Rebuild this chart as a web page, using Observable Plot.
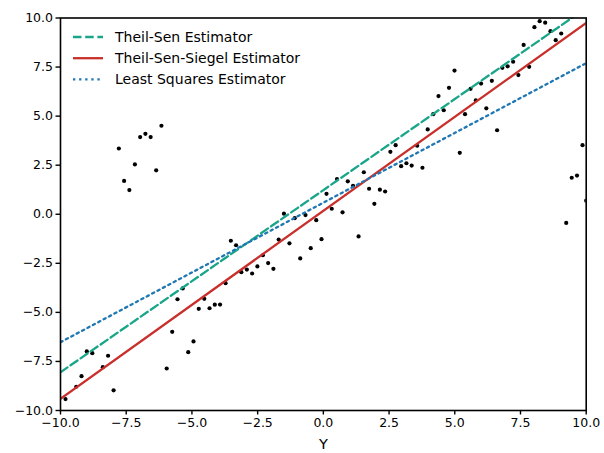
<!DOCTYPE html>
<html><head><meta charset="utf-8">
<script src="https://cdn.jsdelivr.net/npm/d3@7"></script>
<script src="https://cdn.jsdelivr.net/npm/@observablehq/plot@0.6"></script>
<style>body{margin:0;background:#fff;}</style>
</head><body><div id="chart"></div>
<script>
const xs = [-9.81,-9.40,-9.20,-9.00,-8.79,-8.39,-8.19,-7.98,-7.78,-7.58,-7.38,-7.17,-6.97,-6.77,-6.57,-6.36,-6.16,-5.96,-5.75,-5.55,-5.35,-5.14,-4.94,-4.74,-4.53,-4.33,-4.13,-3.93,-3.72,-3.52,-3.32,-3.12,-2.91,-2.71,-2.51,-2.30,-2.10,-1.90,-1.70,-1.50,-1.29,-1.09,-0.88,-0.68,-0.48,-0.27,-0.07,0.12,0.32,0.52,0.73,0.93,1.13,1.34,1.54,1.74,1.94,2.15,2.35,2.55,2.75,2.96,3.16,3.36,3.57,3.77,3.97,4.18,4.38,4.58,4.78,4.99,5.19,5.39,5.60,5.80,6.00,6.20,6.41,6.61,6.81,7.01,7.22,7.42,7.62,7.83,8.03,8.23,8.44,8.64,8.84,9.05,9.24,9.45,9.65,9.86,10.0];
const ys = [-9.42,-8.79,-8.25,-6.99,-7.08,-7.79,-7.21,-8.97,3.35,1.70,1.23,2.54,3.93,4.10,3.93,2.24,4.51,-7.86,-5.99,-4.33,-3.78,-7.03,-6.48,-4.82,-4.31,-4.79,-4.61,-4.60,-3.51,-1.35,-1.58,-2.95,-2.82,-3.02,-2.66,-2.09,-2.49,-2.78,-1.29,0.03,-1.48,-0.20,-2.25,-0.04,-1.73,-0.30,-1.27,1.04,0.28,1.79,0.10,1.68,1.45,-1.13,2.14,1.30,0.53,1.25,1.16,3.18,3.52,2.45,2.60,2.48,3.49,2.37,4.32,5.10,6.02,5.30,6.44,7.32,3.13,5.10,6.39,5.80,6.66,5.40,6.80,4.28,7.46,7.54,7.77,7.09,8.63,7.51,9.53,9.84,9.76,9.33,8.87,9.21,-0.44,1.86,1.97,3.52,0.69];

const fitX = [-10, 10];
const theilSenY = [-8.05, 10.51];
const siegelY = [-9.40, 9.75];
const lsqY = [-6.52, 7.70];

const legendLabels = ["Theil-Sen Estimator", "Theil-Sen-Siegel Estimator", "Least Squares Estimator"];
const xTicks = [-10, -7.5, -5, -2.5, 0, 2.5, 5, 7.5, 10];
const yTicks = [-10, -7.5, -5, -2.5, 0, 2.5, 5, 7.5, 10];
const xLabel = "Y";

const colors = ["#18a589", "#c9302c", "#1f77b4"];
const dashes = ["8.5,3.7", null, "2.3,3.8"];

const points = xs.map((x, i) => ({x, y: ys[i]}));
const fit = (arr) => fitX.map((x, i) => ({x, y: arr[i]}));
const fits = [theilSenY, siegelY, lsqY];

const chart = Plot.plot({
  width: 604, height: 453,
  marginLeft: 60, marginRight: 18.3, marginTop: 17.5, marginBottom: 43,
  style: {fontFamily: "DejaVu Sans", fontSize: "12.5px", color: "black", background: "white"},
  x: {domain: [-10, 10]},
  y: {domain: [-10, 10]},
  marks: [
    Plot.dot(points, {x: "x", y: "y", r: 2.1, fill: "black", stroke: "none", clip: true}),
    ...fits.map((f, i) => Plot.line(fit(f), {x: "x", y: "y", stroke: colors[i], strokeWidth: 2.3, strokeDasharray: dashes[i] ?? undefined, clip: true})),
    Plot.frame({stroke: "black", strokeWidth: 1.6}),
    Plot.axisX({ticks: xTicks, tickSize: 4.5, tickPadding: 3, tickFormat: d3.format(".1f"), label: null, strokeWidth: 1.4}),
    Plot.axisY({ticks: yTicks, tickSize: 4.5, tickPadding: 3, tickFormat: d3.format(".1f"), label: null, strokeWidth: 1.4}),
    Plot.text([xLabel], {frameAnchor: "bottom", dy: 38, fontSize: 14.5, fill: "black"})
  ]
});
document.getElementById("chart").appendChild(chart);

// legend (upper left, inside axes)
const svg = d3.select(chart);
const lg = svg.append("g").attr("font-family", "DejaVu Sans").attr("font-size", 14).attr("text-anchor", "start");
legendLabels.forEach((lab, i) => {
  const y = 37 + i * 21.2;
  lg.append("line").attr("x1", 73).attr("x2", 103).attr("y1", y).attr("y2", y)
    .attr("stroke", colors[i]).attr("stroke-width", 2.3)
    .attr("stroke-dasharray", dashes[i] || null);
  lg.append("text").attr("x", 115).attr("y", y).attr("dy", "0.35em").attr("fill", "black").attr("text-anchor", "start").text(lab);
});
</script>
</body></html>
